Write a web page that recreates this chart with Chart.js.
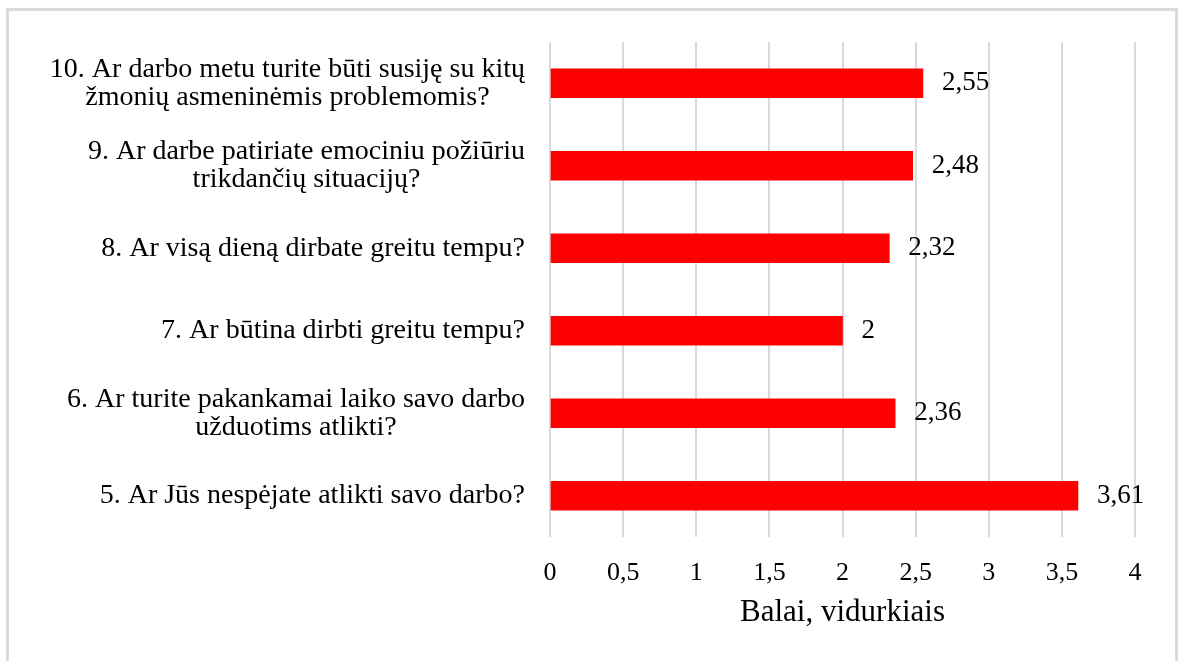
<!DOCTYPE html>
<html lang="lt">
<head>
<meta charset="utf-8">
<title>Balai, vidurkiais</title>
<script src="https://cdn.jsdelivr.net/npm/chart.js@4"></script>
<style>
    body { margin: 0; background: #fff; }
    #frame {
        position: absolute; left: 6px; top: 8px;
        width: 1172px; height: 700px;
        border: 3px solid #d9d9d9; box-sizing: border-box;
    }
    #wrap { position: absolute; left: 0; top: 0; width: 1182px; height: 661px; }
</style>
</head>
<body>
<div id="frame"></div>
<div id="wrap"><canvas id="bars-chart"></canvas></div>
<script>
// questions, top to bottom
const questions = [
    ["10. Ar darbo metu turite būti susiję su kitų", "žmonių asmeninėmis problemomis?"],
    ["9. Ar darbe patiriate emociniu požiūriu", "trikdančių situacijų?"],
    ["8. Ar visą dieną dirbate greitu tempu?"],
    ["7. Ar būtina dirbti greitu tempu?"],
    ["6. Ar turite pakankamai laiko savo darbo", "užduotims atlikti?"],
    ["5. Ar Jūs nespėjate atlikti savo darbo?"]
];
const averages = [2.55, 2.48, 2.32, 2, 2.36, 3.61];
const xTicks = [0, 0.5, 1, 1.5, 2, 2.5, 3, 3.5, 4];
const axisTitle = 'Balai, vidurkiais';

const FONT = '"Liberation Serif", "Times New Roman", serif';

function fmt(v) {
    return String(v).replace('.', ',');
}

// draws the question labels (block right aligned, lines centered) and value labels
const labelsPlugin = {
    id: 'labelsPlugin',
    afterDatasetsDraw(chart) {
        const ctx = chart.ctx;
        const yScale = chart.scales.y;
        const area = chart.chartArea;
        ctx.save();
        ctx.fillStyle = '#000';
        ctx.font = '28px ' + FONT;
        ctx.textBaseline = 'middle';
        ctx.textAlign = 'center';
        const lineH = 28;
        chart.data.labels.forEach((lines, i) => {
            const y = yScale.getPixelForTick(i);
            const widest = Math.max(...lines.map(l => ctx.measureText(l).width));
            const cx = area.left - 25 - widest / 2;
            const y0 = y - (lines.length - 1) * lineH / 2;
            lines.forEach((line, j) => ctx.fillText(line, cx, y0 + j * lineH));
        });

        // value labels at the end of each bar
        ctx.font = '27px ' + FONT;
        ctx.textAlign = 'left';
        const meta = chart.getDatasetMeta(0);
        meta.data.forEach((bar, i) => {
            ctx.fillText(fmt(averages[i]), bar.x + 19, bar.y);
        });
        ctx.restore();
    }
};

const config = {
    type: 'bar',
    data: {
        labels: questions,
        datasets: [
            {
                data: averages,
                backgroundColor: '#ff0000',
                barThickness: 29
            }
        ]
    },
    options: {
        indexAxis: 'y',
        responsive: true,
        maintainAspectRatio: false,
        animation: false,
        layout: {
            padding: { top: 42, right: 47, bottom: 0, left: 0 }
        },
        plugins: {
            legend: { display: false },
            tooltip: { enabled: false }
        },
        scales: {
            x: {
                min: 0,
                max: 4,
                afterBuildTicks: function (scale) {
                    scale.ticks = xTicks.map(v => ({ value: v }));
                },
                afterFit: function (scale) {
                    scale.height = 124;
                },
                grid: {
                    color: '#d9d9d9',
                    lineWidth: 2,
                    drawTicks: false
                },
                border: { display: false },
                ticks: {
                    padding: 21,
                    color: '#000',
                    font: { family: FONT, size: 26 },
                    callback: function (value) { return fmt(value); }
                },
                title: {
                    display: true,
                    text: axisTitle,
                    color: '#000',
                    font: { family: FONT, size: 31 },
                    padding: { top: 0, bottom: 30 }
                }
            },
            y: {
                afterFit: function (scale) {
                    scale.width = 550;
                },
                grid: { display: false },
                border: { display: false },
                ticks: { display: false }
            }
        }
    },
    plugins: [labelsPlugin]
};

new Chart(document.getElementById('bars-chart'), config);
</script>
</body>
</html>
